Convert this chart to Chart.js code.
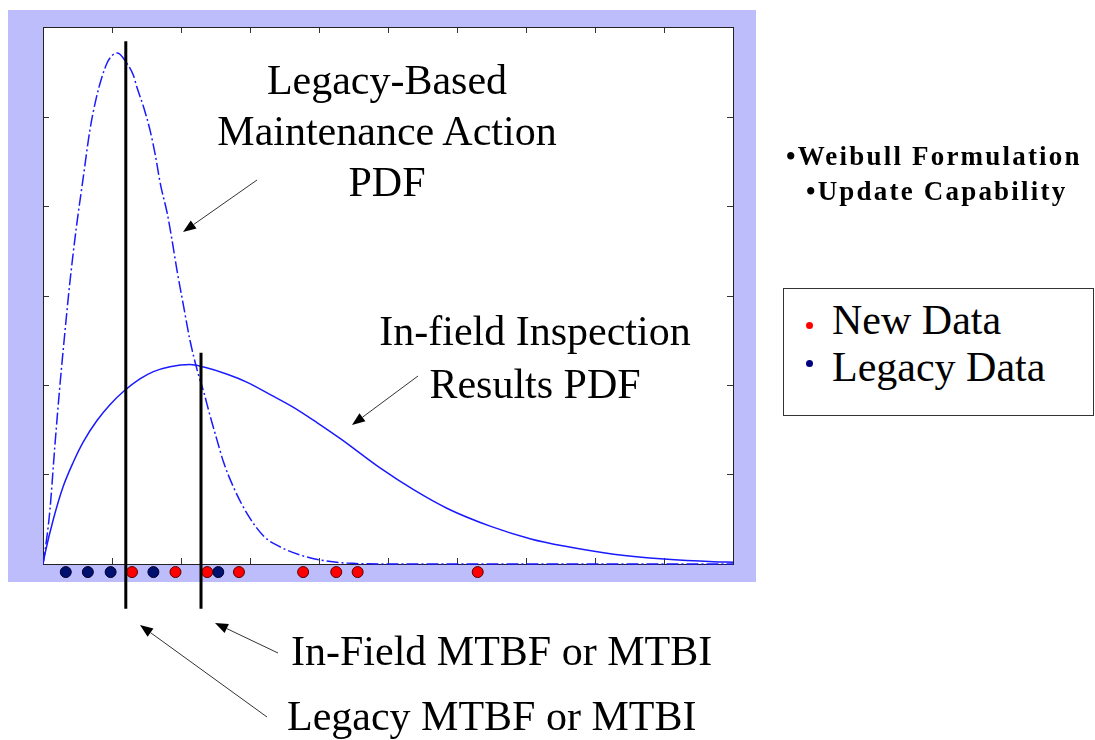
<!DOCTYPE html>
<html>
<head>
<meta charset="utf-8">
<script src="https://cdn.jsdelivr.net/npm/chart.js@4/dist/chart.umd.min.js"></script>
<style>
  body { margin: 0; background: #fff; width: 1095px; height: 740px; overflow: hidden; position: relative; }
  #bg { position: absolute; left: 8px; top: 10px; width: 748px; height: 572px; background: #bdbdfb; }
  #chart { position: absolute; left: 0; top: 0; }
  .txt { position: absolute; font-family: "Liberation Serif", "Times New Roman", serif; font-size: 42px; line-height: 51px; color: #000; white-space: nowrap; }
  .ctr { text-align: center; }
  .bold { font-weight: bold; font-size: 27px; line-height: 30px; letter-spacing: 2.2px; }
  #legendBox { position: absolute; left: 783px; top: 288px; width: 309px; height: 126px; border: 1px solid #333; background: #fff; }
  .dot { position: absolute; width: 7px; height: 7px; border-radius: 50%; }
</style>
</head>
<body>
<div id="bg"></div>
<canvas id="chart" width="1095" height="740"></canvas>

<div class="txt ctr" style="left:187px; top:55px; width:400px;">Legacy-Based<br>Maintenance Action<br>PDF</div>
<div class="txt ctr" style="left:335px; top:305px; width:400px; line-height:53px;">In-field Inspection<br>Results PDF</div>
<div class="txt" style="left:291px; top:626px;">In-Field MTBF or MTBI</div>
<div class="txt" style="left:287px; top:691px;">Legacy MTBF or MTBI</div>

<div class="txt bold" style="left:786px; top:141px;">•Weibull Formulation</div>
<div class="txt bold" style="left:806px; top:176px;">•Update Capability</div>

<div id="legendBox">
  <div class="dot" style="left:22px; top:33px; background:#ff0000;"></div>
  <div class="txt" style="left:48px; top:6px;">New Data</div>
  <div class="dot" style="left:22px; top:71px; background:#000080;"></div>
  <div class="txt" style="left:48px; top:53px;">Legacy Data</div>
</div>

<script>
// ---------- DATA ----------
const xTicks = [0, 1, 2, 3, 4, 5, 6, 7, 8, 9, 10];
const yTicks = [0, 1, 2, 3, 4, 5, 6];

// legacy-based maintenance action PDF (dash-dot)
const legacyPdfX = [0, 0.03, 0.1, 0.17, 0.24, 0.3, 0.39, 0.49, 0.58, 0.68, 0.77, 0.85, 0.93, 1.0, 1.08, 1.21, 1.31, 1.36, 1.46, 1.55, 1.63, 1.7, 1.8, 1.87, 1.94, 2.04, 2.13, 2.24, 2.33, 2.42, 2.52, 2.62, 2.76, 2.96, 3.2, 3.44, 3.73, 4.02, 4.4, 5, 7, 10];
const legacyPdfY = [0, 0.15, 0.6, 1.3, 1.95, 2.45, 3.15, 3.8, 4.3, 4.85, 5.2, 5.43, 5.6, 5.68, 5.71, 5.6, 5.46, 5.33, 5.1, 4.85, 4.56, 4.25, 3.92, 3.62, 3.29, 2.87, 2.5, 2.15, 1.92, 1.66, 1.39, 1.13, 0.86, 0.56, 0.31, 0.19, 0.1, 0.045, 0.01, 0, 0, 0];

// in-field inspection results PDF (solid)
const infieldPdfX = [0, 0.03, 0.15, 0.29, 0.44, 0.58, 0.78, 0.97, 1.17, 1.41, 1.6, 1.84, 2.13, 2.33, 2.67, 2.96, 3.3, 3.63, 3.97, 4.31, 4.89, 5.37, 5.86, 6.49, 7.07, 7.55, 8.27, 9.0, 9.72, 10];
const infieldPdfY = [0, 0.12, 0.5, 0.86, 1.14, 1.36, 1.6, 1.78, 1.93, 2.07, 2.15, 2.205, 2.23, 2.2, 2.12, 2.03, 1.89, 1.75, 1.58, 1.4, 1.07, 0.83, 0.62, 0.42, 0.28, 0.2, 0.11, 0.055, 0.025, 0.02];

// MTBF markers: x position, top and bottom of the line
const legacyMtbf = { x: 1.2, top: 5.84, bottom: -0.5 };
const infieldMtbf = { x: 2.29, top: 2.36, bottom: -0.5 };

// data points shown under the axis
const dotRowY = -0.09;
const newDataX = [1.29, 1.92, 2.38, 2.84, 3.77, 4.25, 4.56, 6.3];
const legacyDataX = [0.33, 0.65, 0.98, 1.6, 2.54];

const toXY = (xs, ys) => xs.map((x, i) => ({ x: x, y: ys[i] }));

// ---------- PLUGINS ----------
// white plot box from y=0 up, with inward ticks on all four sides
const framePlugin = {
  id: 'frame',
  beforeDraw(chart) {
    const a = chart.chartArea, c = chart.ctx;
    const bottom = chart.scales.y.getPixelForValue(0);
    c.save();
    c.fillStyle = '#fff';
    c.fillRect(a.left, a.top, a.right - a.left, bottom - a.top);
    c.restore();
  },
  beforeDatasetsDraw(chart) {
    const a = chart.chartArea, c = chart.ctx;
    const xs = chart.scales.x, ys = chart.scales.y;
    const bottom = Math.round(ys.getPixelForValue(0));
    c.save();
    c.strokeStyle = '#333';
    c.lineWidth = 1;
    c.beginPath();
    xTicks.forEach(v => {
      const px = Math.round(xs.getPixelForValue(v)) + 0.5;
      c.moveTo(px, bottom); c.lineTo(px, bottom - 6);
      c.moveTo(px, a.top); c.lineTo(px, a.top + 6);
    });
    yTicks.forEach(v => {
      const py = Math.round(ys.getPixelForValue(v)) + 0.5;
      c.moveTo(a.left, py); c.lineTo(a.left + 6, py);
      c.moveTo(a.right, py); c.lineTo(a.right - 6, py);
    });
    c.stroke();
    c.strokeStyle = '#222';
    c.strokeRect(a.left + 0.5, a.top + 0.5, a.right - a.left, bottom - a.top);
    c.restore();
  }
};

// annotation arrows [fromX, fromY, toX, toY] in page pixels
const arrows = [
  [257, 180, 183, 232],
  [418, 376, 352, 425],
  [278, 653, 215, 623],
  [267, 717, 140, 625]
];

const arrowPlugin = {
  id: 'arrows',
  afterDraw(chart) {
    const c = chart.ctx;
    c.save();
    c.strokeStyle = '#333';
    c.fillStyle = '#000';
    c.lineWidth = 1;
    arrows.forEach(([x1, y1, x2, y2]) => {
      const ang = Math.atan2(y2 - y1, x2 - x1);
      const len = 13, wid = 5;
      const bx = x2 - len * Math.cos(ang), by = y2 - len * Math.sin(ang);
      c.beginPath();
      c.moveTo(x1, y1); c.lineTo(bx, by);
      c.stroke();
      c.beginPath();
      c.moveTo(x2, y2);
      c.lineTo(bx + wid * Math.sin(ang), by - wid * Math.cos(ang));
      c.lineTo(bx - wid * Math.sin(ang), by + wid * Math.cos(ang));
      c.closePath();
      c.fill();
    });
    c.restore();
  }
};

// ---------- CHART ----------
new Chart(document.getElementById('chart'), {
  type: 'scatter',
  data: {
    datasets: [
      {
        label: 'Legacy MTBF or MTBI',
        data: [{ x: legacyMtbf.x, y: legacyMtbf.top }, { x: legacyMtbf.x, y: legacyMtbf.bottom }],
        showLine: true, borderColor: '#000', borderWidth: 3, pointRadius: 0, clip: false, order: 1
      },
      {
        label: 'In-Field MTBF or MTBI',
        data: [{ x: infieldMtbf.x, y: infieldMtbf.top }, { x: infieldMtbf.x, y: infieldMtbf.bottom }],
        showLine: true, borderColor: '#000', borderWidth: 3, pointRadius: 0, clip: false, order: 1
      },
      {
        label: 'New Data',
        data: newDataX.map(x => ({ x: x, y: dotRowY })),
        backgroundColor: '#ff0000', borderColor: '#550000', borderWidth: 1, pointRadius: 5.5, clip: false, order: 2
      },
      {
        label: 'Legacy Data',
        data: legacyDataX.map(x => ({ x: x, y: dotRowY })),
        backgroundColor: '#00106e', borderColor: '#000030', borderWidth: 1, pointRadius: 5.5, clip: false, order: 2
      },
      {
        label: 'Legacy-Based Maintenance Action PDF',
        data: toXY(legacyPdfX, legacyPdfY),
        showLine: true, borderColor: '#1a1aff', borderWidth: 1.5, borderDash: [12, 3, 2, 3],
        pointRadius: 0, cubicInterpolationMode: 'monotone', order: 3
      },
      {
        label: 'In-field Inspection Results PDF',
        data: toXY(infieldPdfX, infieldPdfY),
        showLine: true, borderColor: '#1a1aff', borderWidth: 1.5,
        pointRadius: 0, cubicInterpolationMode: 'monotone', order: 3
      }
    ]
  },
  options: {
    responsive: false,
    animation: false,
    layout: { padding: { left: 43, top: 27, right: 362, bottom: 131.25 } },
    plugins: { legend: { display: false }, tooltip: { enabled: false } },
    scales: {
      x: {
        type: 'linear', min: 0, max: 10,
        grid: { drawOnChartArea: false, drawTicks: false },
        border: { display: false },
        ticks: { display: false, stepSize: 1 }
      },
      y: {
        type: 'linear', min: -0.5, max: 6,
        grid: { drawOnChartArea: false, drawTicks: false },
        border: { display: false },
        ticks: { display: false, stepSize: 1 }
      }
    }
  },
  plugins: [framePlugin, arrowPlugin]
});
</script>
</body>
</html>
